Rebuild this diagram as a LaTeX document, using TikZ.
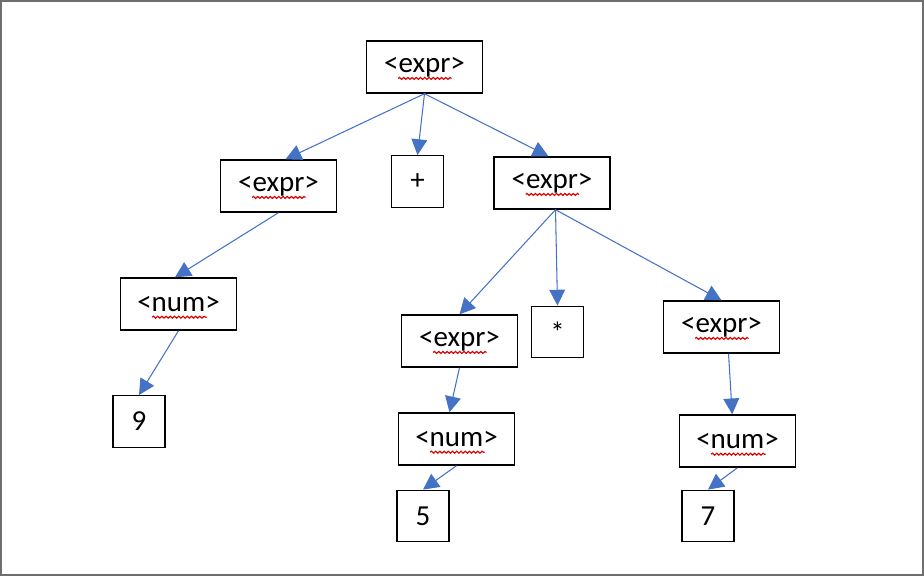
\documentclass[tikz,border=0pt]{standalone}
\usepackage{fontspec}
\setmainfont{Carlito}
\usetikzlibrary{arrows.meta,decorations.pathmorphing}
\definecolor{linkblue}{RGB}{68,114,196}
\definecolor{framegray}{RGB}{110,110,110}

\begin{document}
\begin{tikzpicture}[
    x=0.02cm, y=-0.02cm,
    wordbox/.style={draw, line width=0.8pt, minimum width=2.32cm, minimum height=1.04cm, inner sep=0pt, font=\fontsize{16.5}{19}\selectfont},
    symbox/.style={draw, line width=0.8pt, minimum width=1.04cm, minimum height=1.03cm, inner sep=0pt, font=\fontsize{16.5}{19}\selectfont},
    link/.style={-{Triangle[length=9pt,width=9pt]}, linkblue, line width=0.6pt},
    squiggle/.style={red!85!black, line width=0.65pt, decorate, decoration={snake, amplitude=0.55pt, segment length=2.4pt}}
]
    % frame
    \useasboundingbox (0,0) rectangle (924,576);
    \draw[framegray, line width=1.2pt] (0.6,0.6) rectangle (923.4,575.4);

    % root
    \node[wordbox] (top) at (424.5,67) {<expr>};

    % second level
    \node[wordbox] (lexpr) at (278.5,186) {<expr>};
    \node[symbox] (plus) at (417.5,181.5) {+};
    \node[wordbox] (rexpr) at (552,183) {<expr>};

    % left branch
    \node[wordbox] (lnum) at (178.5,304) {<num>};
    \node[symbox] (nine) at (139,421.5) {9};

    % right branch
    \node[wordbox] (mexpr) at (459.5,341) {<expr>};
    \node[symbox] (star) at (557.5,332) {*};
    \node[wordbox] (rrexpr) at (721.5,327) {<expr>};
    \node[wordbox] (mnum) at (456.5,439) {<num>};
    \node[wordbox] (rnum) at (737.5,441) {<num>};
    \node[symbox] (five) at (423,516) {5};
    \node[symbox] (seven) at (708,516) {7};

    % spelling marks
    \foreach \n in {top,lexpr,rexpr,mexpr,rrexpr}
        \draw[squiggle] ([xshift=-15pt,yshift=-6.5pt]\n.center) -- ([xshift=15.5pt,yshift=-6.5pt]\n.center);
    \foreach \n in {lnum,mnum,rnum}
        \draw[squiggle] ([xshift=-15pt,yshift=-7.5pt]\n.center) -- ([xshift=16pt,yshift=-7.5pt]\n.center);

    % arrows
    \draw[link] (top.south) -- ([xshift=4pt]lexpr.north);
    \draw[link] (top.south) -- (plus.north);
    \draw[link] (top.south) -- ([xshift=-2pt]rexpr.north);
    \draw[link] (lexpr.south) -- ([xshift=-2pt]lnum.north);
    \draw[link] (lnum.south) -- (nine.north);
    \draw[link] ([xshift=2pt]rexpr.south) -- (mexpr.north);
    \draw[link] ([xshift=2pt]rexpr.south) -- (star.north);
    \draw[link] ([xshift=2pt]rexpr.south) -- (rrexpr.north);
    \draw[link] (mexpr.south) -- ([xshift=-4pt]mnum.north);
    \draw[link] (mnum.south) -- (five.north);
    \draw[link] ([xshift=4pt]rrexpr.south) -- ([xshift=-3pt]rnum.north);
    \draw[link] (rnum.south) -- (seven.north);
\end{tikzpicture}
\end{document}
